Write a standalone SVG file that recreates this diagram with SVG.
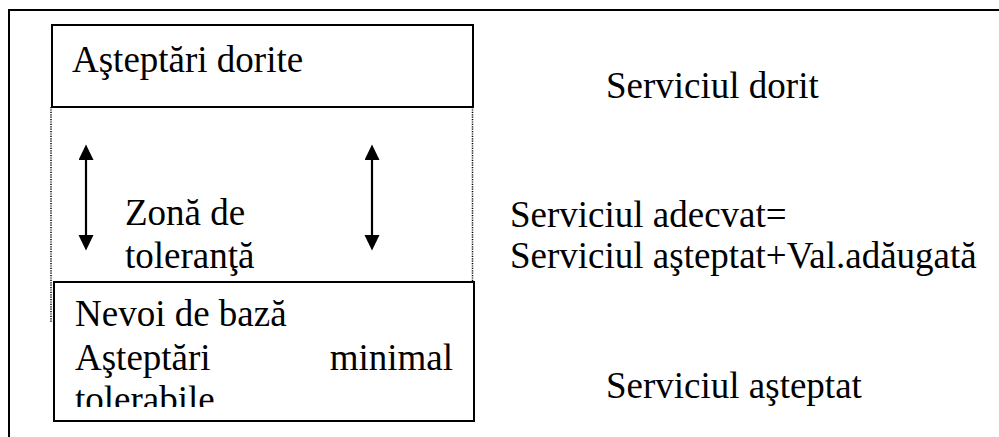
<svg xmlns="http://www.w3.org/2000/svg" width="999" height="437" viewBox="0 0 999 437">
  <defs>
    <marker id="head" markerUnits="userSpaceOnUse" markerWidth="16" markerHeight="16" refX="0" refY="7.5" orient="auto-start-reverse" viewBox="0 0 16 16">
      <path d="M0,0 L15.5,7.5 L0,15 Z" fill="#000"/>
    </marker>
    <clipPath id="lowerClip">
      <rect x="54" y="283" width="420" height="124"/>
    </clipPath>
  </defs>

  <!-- page frame, open to the right and bottom -->
  <path d="M9,437 V10 H999" fill="none" stroke="#000" stroke-width="2"/>

  <!-- dotted sides of the tolerance zone -->
  <g id="zone-sides" fill="none" stroke="#000" stroke-width="1.5" stroke-dasharray="1.2 1.2">
    <line x1="51" y1="107" x2="51" y2="323"/>
    <line x1="472.5" y1="107" x2="472.5" y2="283"/>
  </g>

  <g font-family="Liberation Serif, serif" font-size="37">
    <g id="desired">
      <rect x="52" y="25" width="421" height="82" fill="#fff" stroke="#000" stroke-width="2"/>
      <text x="72" y="71.5">Aşteptări dorite</text>
    </g>

    <g id="tolerance">
      <text x="125" y="225">Zonă de</text>
      <text x="125" y="268">toleranţă</text>
    </g>

    <g id="basic">
      <rect x="54" y="282" width="420" height="139" fill="#fff" stroke="#000" stroke-width="2"/>
      <text x="75" y="326">Nevoi de bază</text>
      <text x="75" y="370">Aşteptări</text>
      <text x="453" y="370" text-anchor="end">minimal</text>
      <text x="75" y="412" clip-path="url(#lowerClip)">tolerabile</text>
    </g>

    <g id="levels">
      <text x="606" y="98">Serviciul dorit</text>
      <text x="510" y="227">Serviciul adecvat=</text>
      <text x="510" y="268">Serviciul aşteptat+Val.adăugată</text>
      <text x="606" y="398">Serviciul aşteptat</text>
    </g>
  </g>

  <!-- double-headed arrows spanning the zone -->
  <g id="connectors" stroke="#000" stroke-width="2.2" fill="none" marker-start="url(#head)" marker-end="url(#head)">
    <line x1="86" y1="160" x2="86" y2="235"/>
    <line x1="372" y1="160" x2="372" y2="235"/>
  </g>
</svg>
